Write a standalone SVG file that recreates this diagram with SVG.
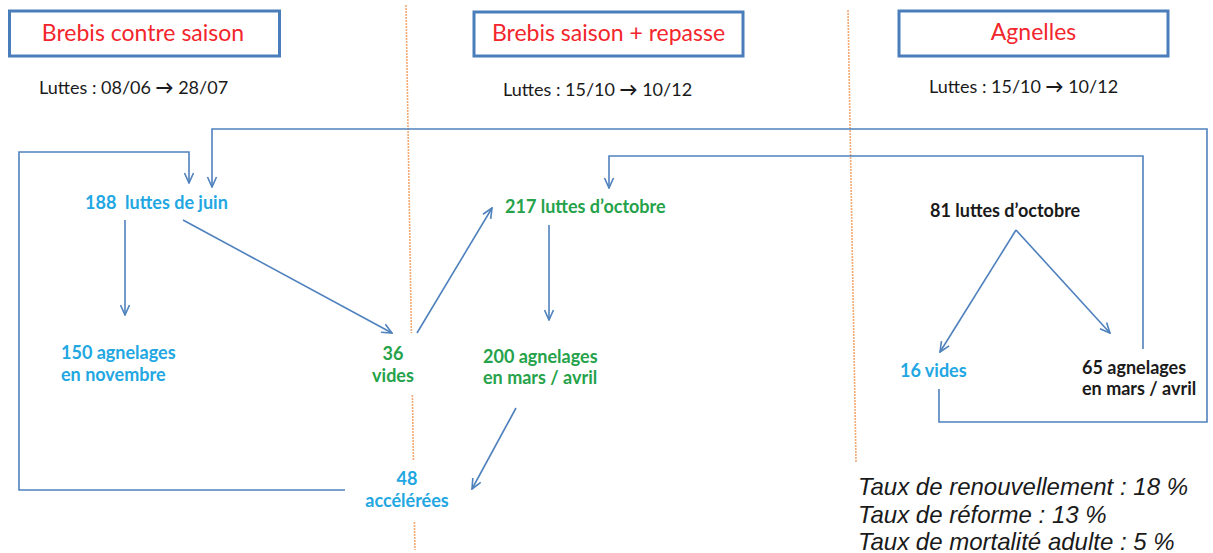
<svg xmlns="http://www.w3.org/2000/svg" width="1213" height="553" viewBox="0 0 1213 553">
<defs>
<style>
.box{fill:#fff;stroke:#4a7ebb;stroke-width:3}
.title{font-family:Lato,"DejaVu Sans",sans-serif;font-size:23px;fill:#f2262c;text-anchor:middle}
.lut{font-family:Lato,"DejaVu Sans",sans-serif;font-size:18px;fill:#1a1a1a}
.n{font-family:Lato,"DejaVu Sans",sans-serif;font-size:18px;font-weight:bold}
.blue{fill:#22a7e2}
.green{fill:#25a24a}
.black{fill:#1a1a1a}
.mid{text-anchor:middle}
.stat{font-family:"Liberation Sans",Arial,sans-serif;font-size:24px;font-style:italic;fill:#1a1a1a}
.c{fill:none;stroke:#4f81bd;stroke-width:1.6}
.a{marker-end:url(#arr)}
.sep{fill:none;stroke:#f5a972;stroke-width:1.6;stroke-dasharray:2 1}
</style>
<marker id="arr" viewBox="0 0 12 12" refX="11" refY="6" markerWidth="12" markerHeight="12" markerUnits="userSpaceOnUse" orient="auto">
<path d="M1,1.5 L11,6 L1,10.5" fill="none" stroke="#4f81bd" stroke-width="1.6"/>
</marker>
</defs>
<rect width="1213" height="553" fill="#fff"/>

<g id="separators">
<path class="sep" d="M406,5 L411.4,333"/>
<path class="sep" d="M412.4,395 L413.4,460"/>
<path class="sep" d="M414.4,522 L415,550"/>
<path class="sep" d="M848,10 L856,462"/>
</g>

<g id="header-contre-saison">
<rect class="box" x="9.5" y="11" width="270" height="45"/>
<text class="title" x="143" y="41">Brebis contre saison</text>
<text class="lut" x="39" y="94">Luttes : 08/06 <tspan font-weight="bold">→</tspan> 28/07</text>
</g>
<g id="header-saison">
<rect class="box" x="474" y="12" width="269" height="44"/>
<text class="title" x="608.5" y="41">Brebis saison + repasse</text>
<text class="lut" x="503" y="96">Luttes : 15/10 <tspan font-weight="bold">→</tspan> 10/12</text>
</g>
<g id="header-agnelles">
<rect class="box" x="899" y="11" width="269" height="45"/>
<text class="title" x="1033.5" y="40">Agnelles</text>
<text class="lut" x="929" y="93">Luttes : 15/10 <tspan font-weight="bold">→</tspan> 10/12</text>
</g>

<g id="connectors">
<path class="c a" d="M125,220 L125,315"/>
<path class="c a" d="M183,220 L392,333"/>
<path class="c a" d="M417,333 L492,208"/>
<path class="c a" d="M549,225 L549,320"/>
<path class="c a" d="M516,408 L472,489"/>
<path class="c a" d="M345,490 L19,490 L19,152 L189,152 L189,183"/>
<path class="c a" d="M939,389 L939,422 L1207,422 L1207,129 L212,129 L212,187"/>
<path class="c a" d="M1143,349 L1143,156 L609,156 L609,188"/>
<path class="c a" d="M1016,230 L940,352"/>
<path class="c a" d="M1016,230 L1110,333"/>
</g>

<g id="n188"><text class="n blue" x="85" y="209" xml:space="preserve">188  luttes de juin</text></g>
<g id="n150"><text class="n blue" x="61" y="359">150 agnelages<tspan x="61" y="381">en novembre</tspan></text></g>
<g id="n36"><text class="n green mid" x="393" y="360">36<tspan x="393" y="382">vides</tspan></text></g>
<g id="n217"><text class="n green" x="505" y="213">217 luttes d’octobre</text></g>
<g id="n200"><text class="n green" x="483" y="363">200 agnelages<tspan x="483" y="384">en mars / avril</tspan></text></g>
<g id="n48"><text class="n blue mid" x="407" y="485">48<tspan x="407" y="507">accélérées</tspan></text></g>
<g id="n81"><text class="n black" x="930" y="217">81 luttes d’octobre</text></g>
<g id="n16"><text class="n blue" x="900" y="377">16 vides</text></g>
<g id="n65"><text class="n black" x="1082" y="374">65 agnelages<tspan x="1082" y="395">en mars / avril</tspan></text></g>

<g id="stats">
<text class="stat" x="858" y="495">Taux de renouvellement : 18 %</text>
<text class="stat" x="858" y="523">Taux de réforme : 13 %</text>
<text class="stat" x="858" y="550">Taux de mortalité adulte : 5 %</text>
</g>
</svg>
